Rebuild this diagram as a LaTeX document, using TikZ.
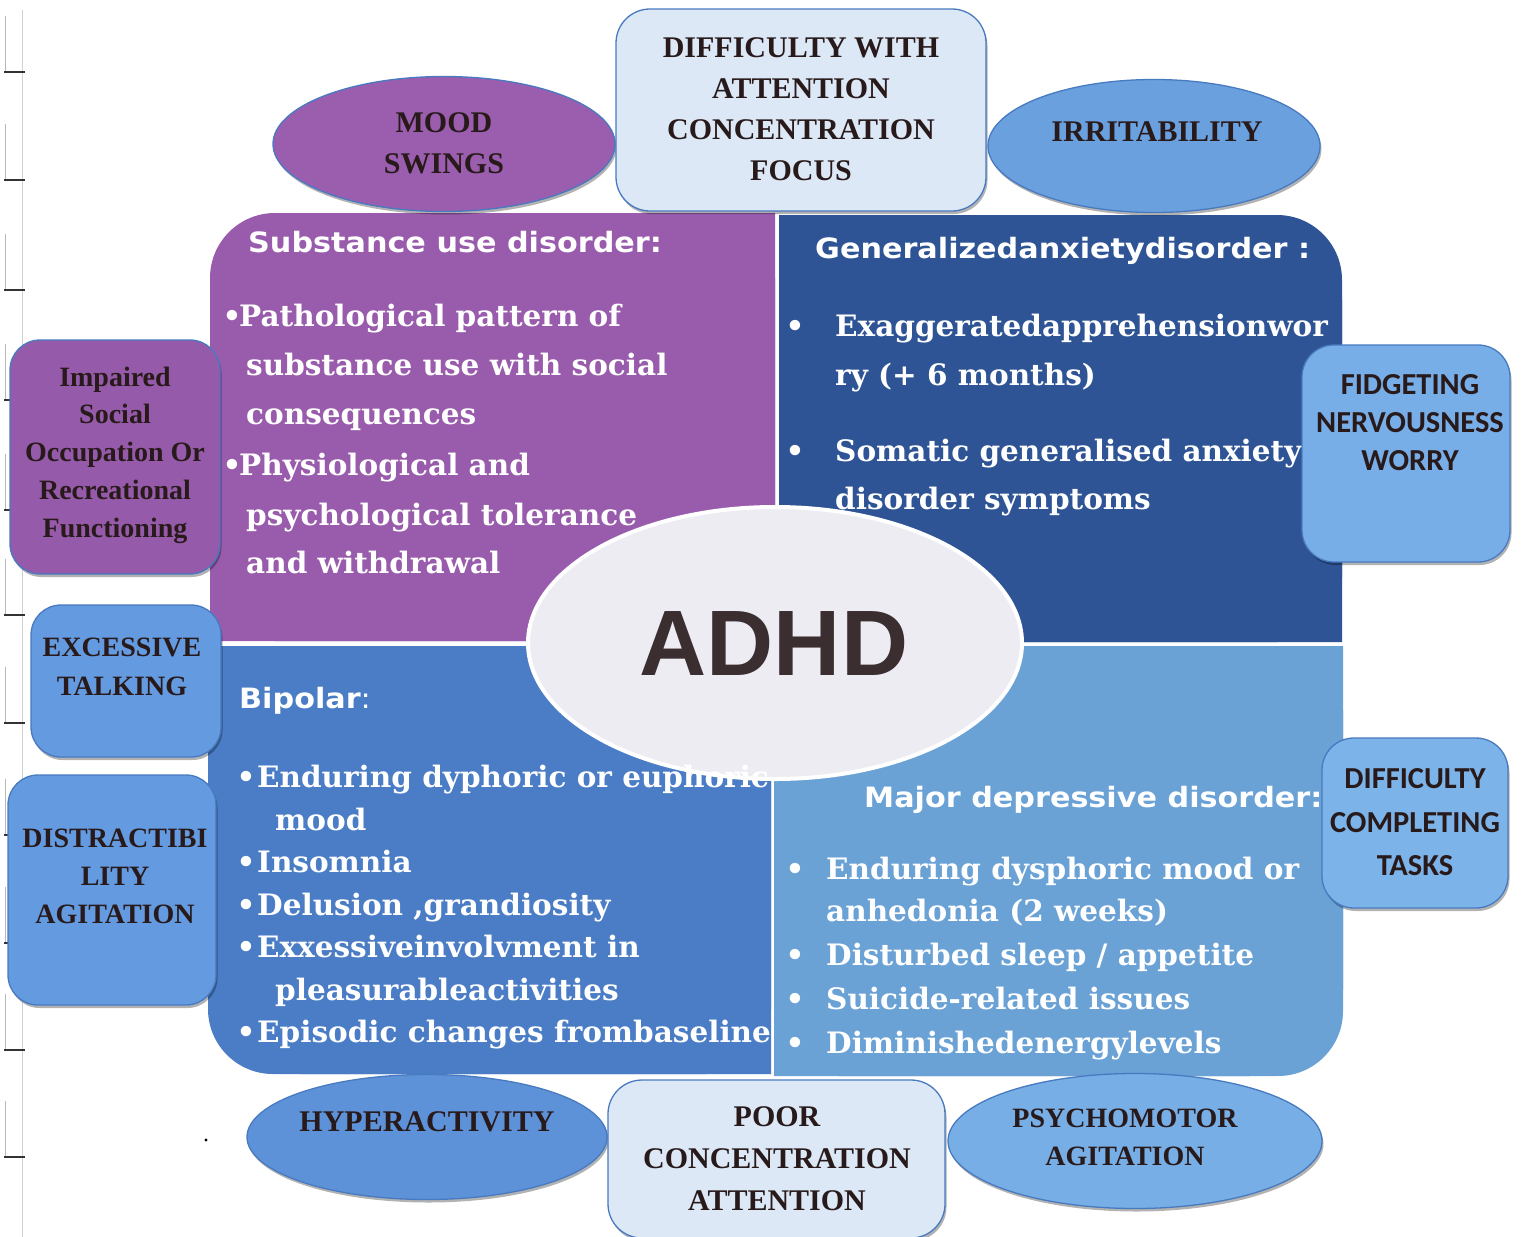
\documentclass[tikz,border=0pt]{standalone}
\usepackage{fontspec}
\setmainfont{Liberation Serif}
\newfontfamily\hdrfont{DejaVu Sans}[FakeStretch=1.08]
\newfontfamily\bodyfont{DejaVu Serif}
\newfontfamily\calfont{Carlito}
\newfontfamily\adhdfont{Liberation Sans}
\usetikzlibrary{shapes.geometric,shadows}

\definecolor{supurple}{RGB}{153,92,172}
\definecolor{gadblue}{RGB}{46,84,150}
\definecolor{bipblue}{RGB}{74,125,197}
\definecolor{mddblue}{RGB}{106,162,214}
\definecolor{moodpurple}{RGB}{155,94,174}
\definecolor{boxpurple}{RGB}{150,90,170}
\definecolor{paleblue}{RGB}{221,232,246}
\definecolor{irrblue}{RGB}{106,160,222}
\definecolor{sideblue}{RGB}{100,154,224}
\definecolor{fidblue}{RGB}{120,174,232}
\definecolor{compblue}{RGB}{124,180,234}
\definecolor{hypblue}{RGB}{94,146,216}
\definecolor{psyblue}{RGB}{120,174,230}
\definecolor{edgeblue}{RGB}{72,122,192}
\definecolor{centre}{RGB}{237,236,243}
\definecolor{ink}{RGB}{40,26,26}
\definecolor{adhdink}{RGB}{58,46,48}

\begin{document}
\begin{tikzpicture}[x=1pt,y=-1pt,
  quadhead/.style={font=\hdrfont\bfseries\fontsize{28}{32}\selectfont, text=white, anchor=base west, inner sep=0pt},
  quadbody/.style={font=\bodyfont\bfseries\fontsize{29.5}{34}\selectfont, text=white, anchor=base west, inner sep=0pt},
  bullet/.style={quadbody, anchor=base},
  shapebase/.style={draw=edgeblue, line width=1.3pt, inner sep=0pt,
    drop shadow={shadow xshift=1.5pt, shadow yshift=-3pt, fill=black, opacity=0.3}},
  oval/.style={shapebase, ellipse},
  card/.style={shapebase, rectangle, rounded corners=32pt},
  lbl/.style={font=\bfseries\fontsize{30}{41}\selectfont, text=ink, anchor=base, inner sep=0pt},
  smalllbl/.style={lbl, font=\bfseries\fontsize{28}{38}\selectfont},
  callbl/.style={lbl, font=\calfont\bfseries\fontsize{30.5}{38}\selectfont},
]
\useasboundingbox (0,0) rectangle (1521,1237);
\fill[white] (0,0) rectangle (1521,1237);

% binder marks along the left edge
\draw[black!18, line width=0.6pt] (22,10) -- (22,1237);
\foreach \yy in {72,180,290,400,510,615,723,835,943,1050,1157}{
  \draw[black!28, line width=0.7pt] (5,{\yy-56}) -- (5,\yy);
  \draw[black!80, line width=2pt] (4,\yy) -- (25,\yy);
}
\fill[black] (206,1140) circle (1.6);

% four quadrants, each with one rounded outer corner
\fill[supurple, rounded corners=65pt] (210,213) rectangle (775,641);
\fill[supurple] (300,213) rectangle (775,641) (210,300) rectangle (775,641);
\fill[gadblue, rounded corners=65pt] (779,215) rectangle (1342,642);
\fill[gadblue] (779,215) rectangle (1250,642) (779,300) rectangle (1342,642);
\fill[bipblue, rounded corners=65pt] (208,646) rectangle (771,1074);
\fill[bipblue] (300,646) rectangle (771,1074) (208,646) rectangle (771,990);
\fill[mddblue, rounded corners=65pt] (774,646) rectangle (1343,1076);
\fill[mddblue] (774,646) rectangle (1250,1076) (774,646) rectangle (1343,990);

% centre
\node[ellipse, fill=centre, draw=white, line width=4pt, inner sep=0pt,
      minimum width=494pt, minimum height=272pt] (adhd) at (775,643) {};
\node[font=\adhdfont\bfseries\fontsize{93}{100}\selectfont, text=adhdink,
      anchor=base, inner sep=0pt] (adhdT) at (774,675) {ADHD};

% substance use disorder
\node[quadhead] (suH) at (248,252) {Substance use disorder:};
\node[bullet] (suB1) at (232,326) {•};
\node[quadbody] (su1) at (239,326) {Pathological pattern of};
\node[quadbody] (su2) at (246,375) {substance use with social};
\node[quadbody] (su3) at (246,424) {consequences};
\node[bullet] (suB2) at (232,475) {•};
\node[quadbody] (su4) at (239,475) {Physiological and};
\node[quadbody] (su5) at (246,525) {psychological tolerance};
\node[quadbody] (su6) at (246,573) {and withdrawal};

% generalized anxiety disorder
\node[quadhead] (gaH) at (815,258) {Generalizedanxietydisorder :};
\node[bullet] (gaB1) at (795,336) {•};
\node[quadbody] (ga1) at (835,336) {Exaggeratedapprehensionwor};
\node[quadbody] (ga2) at (835,385) {ry (+ 6 months)};
\node[bullet] (gaB2) at (795,461) {•};
\node[quadbody] (ga3) at (835,461) {Somatic generalised anxiety};
\node[quadbody] (ga4) at (835,509) {disorder symptoms};

% bipolar
\node[quadhead] (biH) at (239,708) {Bipolar\mdseries:};
\node[bullet] (biB1) at (246,787) {•};
\node[quadbody] (bi1) at (257,787) {Enduring dyphoric or euphoric};
\node[quadbody] (bi2) at (275,830) {mood};
\node[bullet] (biB2) at (246,872) {•};
\node[quadbody] (bi3) at (257,872) {Insomnia};
\node[bullet] (biB3) at (246,915) {•};
\node[quadbody] (bi4) at (257,915) {Delusion ,grandiosity};
\node[bullet] (biB4) at (246,957) {•};
\node[quadbody] (bi5) at (257,957) {Exxessiveinvolvment in};
\node[quadbody] (bi6) at (275,1000) {pleasurableactivities};
\node[bullet] (biB5) at (246,1042) {•};
\node[quadbody] (bi7) at (257,1042) {Episodic changes frombaseline};

% major depressive disorder
\node[quadhead] (mdH) at (864,807) {Major depressive disorder:};
\node[bullet] (mdB1) at (795,879) {•};
\node[quadbody] (md1) at (826,879) {Enduring dysphoric mood or};
\node[quadbody] (md2) at (826,921) {anhedonia (2 weeks)};
\node[bullet] (mdB2) at (795,965) {•};
\node[quadbody] (md3) at (826,965) {Disturbed sleep / appetite};
\node[bullet] (mdB3) at (795,1009) {•};
\node[quadbody] (md4) at (826,1009) {Suicide-related issues};
\node[bullet] (mdB4) at (795,1053) {•};
\node[quadbody] (md5) at (826,1053) {Diminishedenergylevels};

% symptoms along the top
\node[oval, fill=moodpurple, minimum width=342pt, minimum height=135pt] (mood) at (444,144) {};
\node[lbl] (moodA) at (444,132) {MOOD};
\node[lbl] (moodB) at (444,173) {SWINGS};

\node[card, fill=paleblue, rounded corners=34pt, minimum width=370pt, minimum height=202pt] (focus) at (801,110) {};
\node[lbl] (focusA) at (801,57) {DIFFICULTY WITH};
\node[lbl] (focusB) at (801,98) {ATTENTION};
\node[lbl] (focusC) at (801,139) {CONCENTRATION};
\node[lbl] (focusD) at (801,180) {FOCUS};

\node[oval, fill=irrblue, minimum width=332pt, minimum height=133pt] (irr) at (1154,146) {};
\node[lbl] (irrT) at (1157,141) {IRRITABILITY};

% symptoms on the left
\node[card, fill=boxpurple, rounded corners=30pt, minimum width=210pt, minimum height=234pt] (social) at (115,457) {};
\node[smalllbl] (socA) at (115,386) {Impaired};
\node[smalllbl] (socB) at (115,423) {Social};
\node[smalllbl] (socC) at (115,461) {Occupation Or};
\node[smalllbl] (socD) at (115,499) {Recreational};
\node[smalllbl] (socE) at (115,537) {Functioning};

\node[card, fill=sideblue, rounded corners=30pt, minimum width=190pt, minimum height=152pt] (talk) at (126,681) {};
\node[smalllbl] (talkA) at (122,656) {EXCESSIVE};
\node[smalllbl] (talkB) at (122,695) {TALKING};

\node[card, fill=sideblue, rounded corners=30pt, minimum width=208pt, minimum height=230pt] (distr) at (112,890) {};
\node[smalllbl] (distrA) at (115,847) {DISTRACTIBI};
\node[smalllbl] (distrB) at (115,885) {LITY};
\node[smalllbl] (distrC) at (115,923) {AGITATION};

% symptoms on the right
\node[card, fill=fidblue, rounded corners=32pt, minimum width=208pt, minimum height=217pt] (fidget) at (1406,453.5) {};
\begin{scope}
  \clip (1302,345) rectangle (1502,562);
  \node[callbl] (fidA) at (1410,394) {FIDGETING};
  \node[callbl] (fidB) at (1410,432) {NERVOUSNESS};
  \node[callbl] (fidC) at (1410,470) {WORRY};
\end{scope}

\node[card, fill=compblue, rounded corners=32pt, minimum width=186pt, minimum height=170pt] (tasks) at (1415,823) {};
\node[callbl] (tasksA) at (1415,788) {DIFFICULTY};
\node[callbl] (tasksB) at (1415,832) {COMPLETING};
\node[callbl] (tasksC) at (1415,875) {TASKS};

% symptoms along the bottom
\node[oval, fill=hypblue, minimum width=360pt, minimum height=125pt] (hyper) at (427,1137) {};
\node[lbl] (hyperT) at (427,1131) {HYPERACTIVITY};

\node[card, fill=paleblue, rounded corners=34pt, minimum width=337pt, minimum height=158pt] (poor) at (776.5,1159) {};
\node[lbl] (poorA) at (777,1126) {POOR};
\node[lbl] (poorB) at (777,1168) {CONCENTRATION};
\node[lbl] (poorC) at (777,1210) {ATTENTION};

\node[oval, fill=psyblue, minimum width=374pt, minimum height=135pt] (psycho) at (1135,1141) {};
\node[smalllbl] (psyA) at (1125,1127) {PSYCHOMOTOR};
\node[smalllbl] (psyB) at (1125,1165) {AGITATION};
\end{tikzpicture}
\end{document}
